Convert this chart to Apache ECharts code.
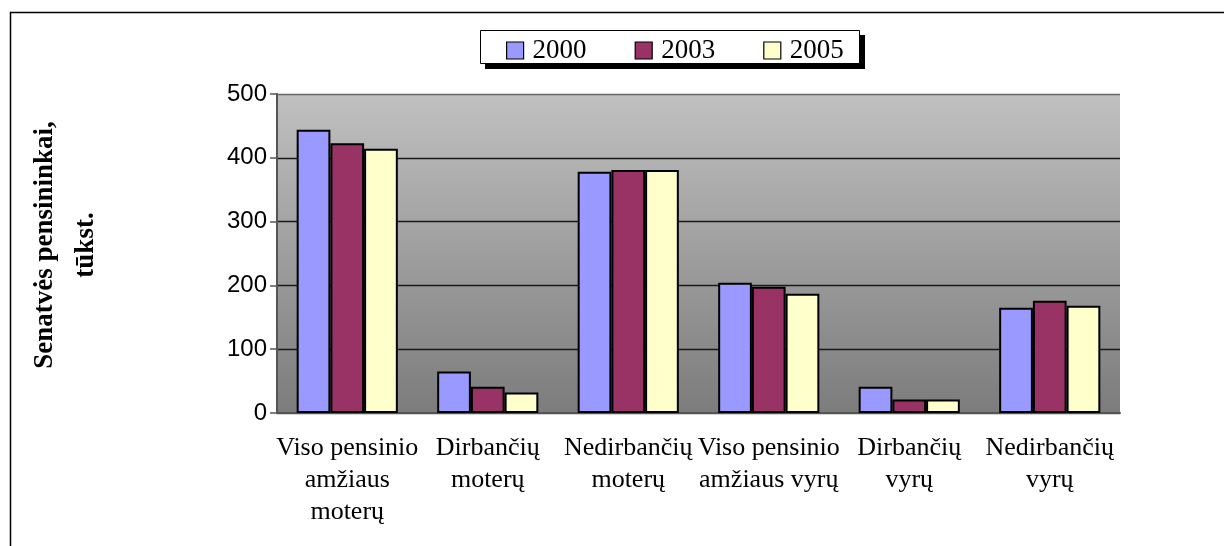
<!DOCTYPE html>
<html>
<head>
<meta charset="utf-8">
<script src="https://cdn.jsdelivr.net/npm/echarts@6/dist/echarts.min.js"></script>
<style>
  html, body { margin: 0; padding: 0; background: #fff; }
  #chart { width: 1224px; height: 546px; }
</style>
</head>
<body>
<div id="chart"></div>
<script>
// Old-age pensioners (thousands) by group, for three survey years
const categories = [
  'Viso pensinio\namžiaus\nmoterų',
  'Dirbančių\nmoterų',
  'Nedirbančių\nmoterų',
  'Viso pensinio\namžiaus vyrų',
  'Dirbančių\nvyrų',
  'Nedirbančių\nvyrų'
];
const years = ['2000', '2003', '2005'];
const values2000 = [444, 65, 378, 204, 41, 165];
const values2003 = [423, 41, 381, 198, 21, 176];
const values2005 = [414, 32, 381, 187, 21, 168];
const yTicks = { min: 0, max: 500, interval: 100 };
const axisTitle = 'Senatvės pensininkai,\ntūkst.';

const colors = ['#9999FF', '#993366', '#FFFFCC'];
const seriesValues = [values2000, values2003, values2005];

const chart = echarts.init(document.getElementById('chart'), null, { renderer: 'canvas' });

chart.setOption({
  animation: false,
  backgroundColor: '#ffffff',
  graphic: [
    {
      // outer chart frame
      type: 'rect',
      shape: { x: 10.5, y: 12.5, width: 1300, height: 600 },
      style: { fill: 'none', stroke: '#000', lineWidth: 1.5 },
      z: 100
    },
    {
      // solid drop shadow behind the legend box
      type: 'rect',
      shape: { x: 485, y: 35, width: 380, height: 34 },
      style: { fill: '#000' },
      z: 2
    },
    {
      // legend box
      type: 'rect',
      shape: { x: 480.5, y: 30.5, width: 379, height: 33 },
      style: { fill: '#fff', stroke: '#000', lineWidth: 1 },
      z: 3
    },
    {
      type: 'text',
      x: 66,
      y: 245,
      rotation: Math.PI / 2,
      style: {
        text: axisTitle,
        font: 'bold 27px "Liberation Serif"',
        fill: '#000',
        align: 'center',
        verticalAlign: 'middle',
        lineHeight: 41
      }
    }
  ],
  legend: {
    data: years,
    left: 506,
    top: 37,
    padding: 0,
    itemGap: 48,
    itemWidth: 17,
    itemHeight: 17,
    icon: 'rect',
    itemStyle: { borderColor: '#000', borderWidth: 1.2 },
    textStyle: {
      fontFamily: '"Liberation Serif"',
      fontSize: 27,
      lineHeight: 27,
      color: '#000',
      padding: [0, 0, 0, 4]
    }
  },
  grid: {
    left: 277,
    right: 104,
    top: 94,
    bottom: 133,
    show: true,
    borderWidth: 0,
    backgroundColor: new echarts.graphic.LinearGradient(0, 0, 0, 1, [
      { offset: 0, color: '#c0c0c0' },
      { offset: 1, color: '#7c7c7c' }
    ])
  },
  xAxis: {
    type: 'category',
    data: categories,
    axisLine: { show: true, lineStyle: { color: '#555', width: 2 } },
    axisTick: { show: false },
    axisLabel: {
      interval: 0,
      margin: 19,
      fontFamily: '"Liberation Serif"',
      fontSize: 26,
      lineHeight: 32,
      color: '#000',
      align: 'center'
    }
  },
  yAxis: {
    type: 'value',
    min: yTicks.min,
    max: yTicks.max,
    interval: yTicks.interval,
    axisLine: { show: true, lineStyle: { color: '#555', width: 2 } },
    axisTick: { show: true, length: 7, lineStyle: { color: '#555', width: 1.5 } },
    axisLabel: {
      margin: 10,
      fontFamily: '"Liberation Sans"',
      fontSize: 24,
      color: '#000'
    },
    splitLine: {
      show: true,
      lineStyle: {
        color: ['#555', '#1a1a1a', '#1a1a1a', '#1a1a1a', '#1a1a1a', '#666'],
        width: 1.3
      }
    }
  },
  series: years.map((y, i) => ({
    name: y,
    type: 'bar',
    data: seriesValues[i],
    barGap: '0%',
    barCategoryGap: '28%',
    itemStyle: { color: colors[i], borderColor: '#000', borderWidth: 2 }
  }))
});
</script>
</body>
</html>
